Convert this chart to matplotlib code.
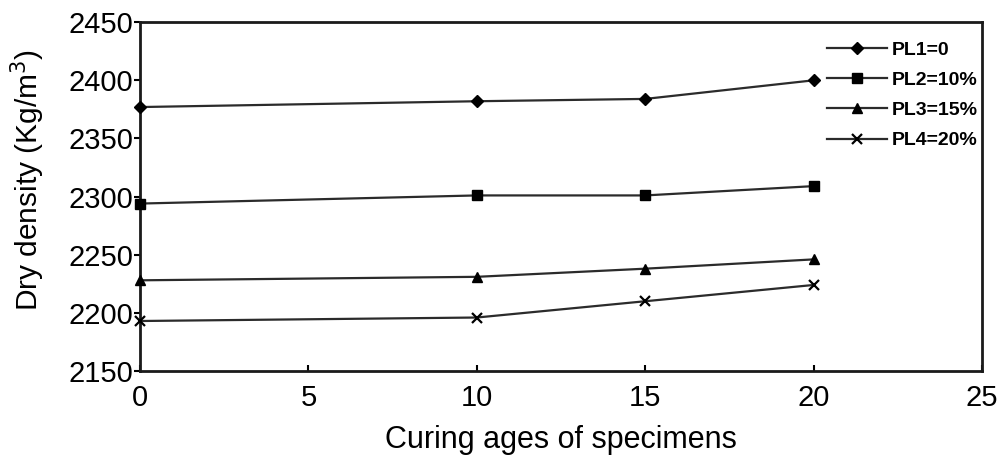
import matplotlib
matplotlib.use("Agg")
import matplotlib.pyplot as plt

# Curing age (days) and dry density (kg/m^3) for each mix
curing_days = [0, 10, 15, 20]
pl1 = [2377, 2382, 2384, 2400]
pl2 = [2294, 2301, 2301, 2309]
pl3 = [2228, 2231, 2238, 2246]
pl4 = [2193, 2196, 2210, 2224]
series_labels = ["PL1=0", "PL2=10%", "PL3=15%", "PL4=20%"]
markers = ["D", "s", "^", "x"]

x_ticks = [0, 5, 10, 15, 20, 25]
y_ticks = [2150, 2200, 2250, 2300, 2350, 2400, 2450]

plt.rcParams["font.family"] = ["Liberation Sans", "DejaVu Sans"]

fig = plt.figure(figsize=(10.03, 4.59), dpi=100)
ax = fig.add_axes([0.1396, 0.1917, 0.8395, 0.760])

for vals, lab, mk in zip([pl1, pl2, pl3, pl4], series_labels, markers):
    ax.plot(curing_days, vals, color="#2b2b2b", linewidth=1.6,
            marker=mk, markersize=7 if mk != "D" else 6,
            markerfacecolor="black", markeredgecolor="black",
            markeredgewidth=1.6 if mk == "x" else 1.0,
            label=lab, clip_on=False, zorder=3)

ax.set_xlim(0, 25)
ax.set_ylim(2150, 2450)
ax.set_xticks(x_ticks)
ax.set_yticks(y_ticks)
ax.tick_params(axis="y", labelsize=21, width=1.5, length=4,
               direction="out", pad=1)
ax.tick_params(axis="x", labelsize=21, width=1.5, length=4,
               direction="in", pad=9)
for sp in ax.spines.values():
    sp.set_linewidth(2)
    sp.set_color("#1a1a1a")

ax.set_xlabel("Curing ages of specimens", fontsize=22, labelpad=10)
ax.set_ylabel("Dry density (Kg/m$^3$)", fontsize=21.5)
ax.yaxis.set_label_coords(-0.110, 0.547)

leg = ax.legend(loc="upper left", bbox_to_anchor=(0.816, 0.946), frameon=False,
                fontsize=14, handlelength=3.09, handletextpad=0.26,
                labelspacing=0.65, borderaxespad=0, borderpad=0)
for t in leg.get_texts():
    t.set_fontweight("bold")

fig.savefig("out.png", dpi=100, facecolor="white")
